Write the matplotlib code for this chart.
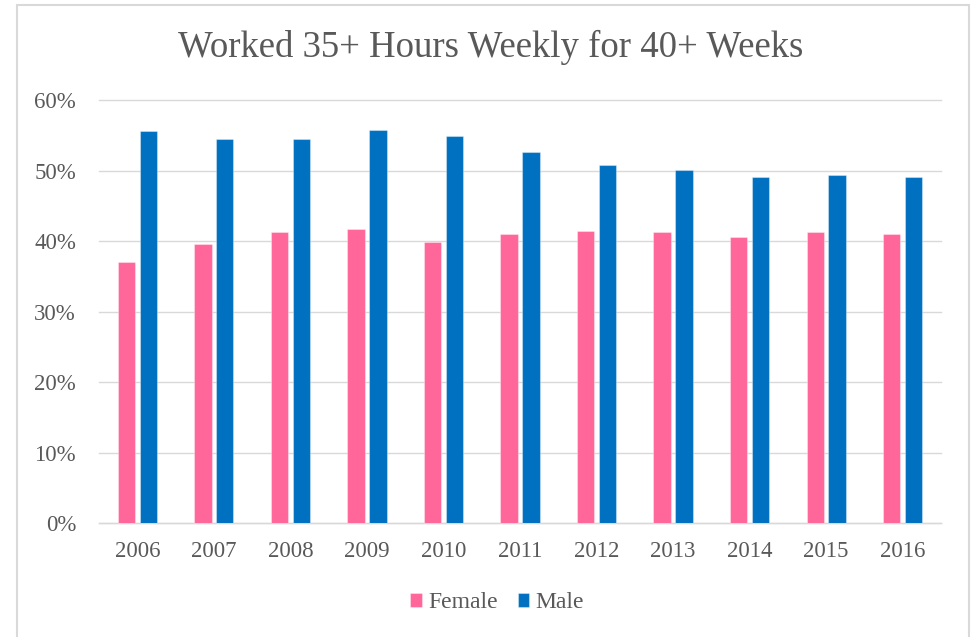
import matplotlib
matplotlib.use('Agg')
import matplotlib.pyplot as plt
import numpy as np
from matplotlib.patches import Rectangle
from matplotlib.ticker import PercentFormatter

years = ['2006', '2007', '2008', '2009', '2010', '2011', '2012', '2013', '2014', '2015', '2016']
female = [37.0, 39.6, 41.3, 41.8, 39.9, 41.1, 41.5, 41.3, 40.6, 41.3, 41.0]
male = [55.7, 54.6, 54.6, 55.8, 55.0, 52.7, 50.9, 50.1, 49.2, 49.4, 49.2]

txt_color = '#595959'
grid_color = '#d9d9d9'
serif = 'Liberation Serif'

fig = plt.figure(figsize=(9.72, 6.37), dpi=100)
# outer chart frame (bottom edge cropped off)
fig.patches.append(Rectangle((17/972, -0.05), 952/972, (637-5)/637 + 0.05,
                             transform=fig.transFigure, fill=False,
                             edgecolor=grid_color, linewidth=1.5))

ax = fig.add_axes([99/972, 114/637, 842/972, (536.5-114)/637])
x = np.arange(len(years))
w = 0.227
off = 0.1435
ax.bar(x - off, np.array(female) / 100, width=w, color='#ff6699',
       edgecolor=(1, 1, 1, 0.35), linewidth=0.8, label='Female', zorder=3)
ax.bar(x + off, np.array(male) / 100, width=w, color='#0070c0',
       edgecolor=(1, 1, 1, 0.35), linewidth=0.8, label='Male', zorder=3)

ax.set_xlim(-0.5, len(years) - 0.5)
ax.set_ylim(0, 0.6)
ax.set_yticks(np.arange(0, 0.61, 0.1))
ax.yaxis.set_major_formatter(PercentFormatter(1.0, decimals=0))
ax.set_xticks(x)
ax.set_xticklabels(years)
ax.grid(axis='y', color=grid_color, linewidth=1.0, zorder=0)
for gl in ax.get_ygridlines():
    gl.set_clip_on(False)
for s in ['top', 'right', 'left']:
    ax.spines[s].set_visible(False)
ax.spines['bottom'].set_color(grid_color)
ax.spines['bottom'].set_linewidth(1.0)
ax.tick_params(axis='both', length=0, labelsize=16.5, labelcolor=txt_color)
ax.tick_params(axis='y', pad=16.5)
ax.tick_params(axis='x', pad=13)
for lbl in ax.get_xticklabels() + ax.get_yticklabels():
    lbl.set_fontfamily(serif)

fig.text(491/972, 1 - 47/637, 'Worked 35+ Hours Weekly for 40+ Weeks',
         ha='center', va='center', fontsize=26.5, color=txt_color, family=serif)

leg = fig.legend(loc='center', bbox_to_anchor=(497/972, 1 - 603/637), ncol=2,
                 frameon=False, prop={'family': serif, 'size': 17},
                 handlelength=0.5, handleheight=0.5,
                 handletextpad=0.25, columnspacing=0.85)
for t in leg.get_texts():
    t.set_color(txt_color)

fig.savefig('out.png', dpi=100)
